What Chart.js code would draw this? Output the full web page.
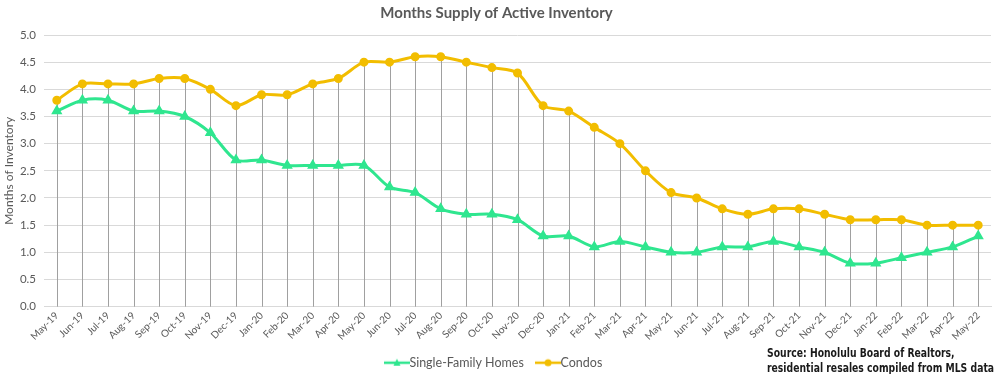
<!DOCTYPE html>
<html>
<head>
<meta charset="utf-8">
<script src="https://cdn.jsdelivr.net/npm/chart.js@4"></script>
<style>
  html, body { margin: 0; padding: 0; background: #fff; }
  #wrap { position: relative; width: 1000px; height: 374px; }
  #source {
    position: absolute; left: 767px; top: 346px;
    font: bold 11.5px "DejaVu Sans Condensed", "DejaVu Sans", sans-serif;
    color: #1a1a1a; line-height: 15px; white-space: nowrap;
    transform: scaleX(0.895); transform-origin: 0 0;
  }
</style>
</head>
<body>
<div id="wrap">
  <canvas id="myChart" width="1000" height="374"></canvas>
  <div id="source">Source: Honolulu Board of Realtors,<br>residential resales compiled from MLS data</div>
</div>
<script>
const months = [
  "May-19", "Jun-19", "Jul-19", "Aug-19", "Sep-19", "Oct-19", "Nov-19", "Dec-19",
  "Jan-20", "Feb-20", "Mar-20", "Apr-20", "May-20", "Jun-20", "Jul-20", "Aug-20",
  "Sep-20", "Oct-20", "Nov-20", "Dec-20", "Jan-21", "Feb-21", "Mar-21", "Apr-21",
  "May-21", "Jun-21", "Jul-21", "Aug-21", "Sep-21", "Oct-21", "Nov-21", "Dec-21",
  "Jan-22", "Feb-22", "Mar-22", "Apr-22", "May-22",
];
const singleFamily = [
  3.6, 3.8, 3.8, 3.6, 3.6, 3.5, 3.2, 2.7, 2.7, 2.6, 2.6, 2.6, 2.6, 2.2, 2.1, 1.8,
  1.7, 1.7, 1.6, 1.3, 1.3, 1.1, 1.2, 1.1, 1.0, 1.0, 1.1, 1.1, 1.2, 1.1, 1.0, 0.8,
  0.8, 0.9, 1.0, 1.1, 1.3,
];
const condos = [
  3.8, 4.1, 4.1, 4.1, 4.2, 4.2, 4.0, 3.7, 3.9, 3.9, 4.1, 4.2, 4.5, 4.5, 4.6, 4.6,
  4.5, 4.4, 4.3, 3.7, 3.6, 3.3, 3.0, 2.5, 2.1, 2.0, 1.8, 1.7, 1.8, 1.8, 1.7, 1.6,
  1.6, 1.6, 1.5, 1.5, 1.5,
];

const green = "#2fe68f";
const gold = "#f2bd00";
const gray = "#595959";

// legend swatch: short line with the marker in the middle
const swatch = (color, style) => {
  const c = document.createElement("canvas");
  c.width = 26;
  c.height = 10;
  const g = c.getContext("2d");
  g.strokeStyle = color;
  g.fillStyle = color;
  g.lineWidth = 2.5;
  g.beginPath();
  g.moveTo(0, 5);
  g.lineTo(26, 5);
  g.stroke();
  g.beginPath();
  if (style === "triangle") {
    g.moveTo(13, 1);
    g.lineTo(16.5, 8);
    g.lineTo(9.5, 8);
    g.closePath();
  } else {
    g.arc(13, 5, 3.5, 0, Math.PI * 2);
  }
  g.fill();
  return c;
};

// vertical drop lines from the highest point to the axis
const dropLines = {
  id: "dropLines",
  beforeDatasetsDraw(chart) {
    const { ctx, scales: { x, y } } = chart;
    ctx.save();
    ctx.strokeStyle = "#a0a0a0";
    ctx.lineWidth = 1;
    months.forEach((m, i) => {
      const top = Math.max(singleFamily[i], condos[i]);
      const px = Math.round(x.getPixelForValue(i)) + 0.5;
      ctx.beginPath();
      ctx.moveTo(px, y.getPixelForValue(top));
      ctx.lineTo(px, y.getPixelForValue(0));
      ctx.stroke();
    });
    ctx.restore();
  },
};

// nudge the legend up a little without moving the plot
const legendNudge = {
  id: "legendNudge",
  afterLayout(chart) {
    chart.legend.top -= 7;
    chart.legend.bottom -= 7;
  },
};

const ctx = document.getElementById("myChart").getContext("2d");
const myChart = new Chart(ctx, {
  type: "line",
  data: {
    labels: months,
    datasets: [
      {
        label: "Single-Family Homes",
        data: singleFamily,
        borderColor: green,
        backgroundColor: green,
        borderWidth: 3,
        pointStyle: "triangle",
        pointRadius: 3.5,
        tension: 0.3,
      },
      {
        label: "Condos",
        data: condos,
        borderColor: gold,
        backgroundColor: gold,
        borderWidth: 3,
        pointStyle: "circle",
        pointRadius: 3,
        tension: 0.3,
      },
    ],
  },
  options: {
    responsive: false,
    animation: false,
    layout: { padding: { left: 2, right: 9, top: 0, bottom: -12 } },
    scales: {
      x: {
        offset: true,
        grid: { display: false, drawTicks: false },
        border: { color: "#d9d9d9" },
        ticks: {
          color: gray,
          font: { family: "Lato", size: 10 },
          minRotation: 45,
          maxRotation: 45,
          autoSkip: false,
          padding: 3,
        },
      },
      y: {
        min: 0,
        max: 5,
        afterFit: (a) => { a.width = 42; },
        grid: { color: "#d9d9d9", drawTicks: false },
        border: { display: false },
        ticks: {
          stepSize: 0.5,
          color: gray,
          font: { family: "Lato", size: 11.5 },
          padding: 8,
          callback: (v) => v.toFixed(1),
        },
        title: {
          display: true,
          text: "Months of Inventory",
          color: gray,
          font: { family: "Lato", size: 12 },
          padding: 0,
        },
      },
    },
    plugins: {
      title: {
        display: true,
        text: "Months Supply of Active Inventory",
        color: gray,
        font: { family: "Lato", size: 15, weight: "bold" },
        padding: { top: 4, bottom: 13 },
      },
      legend: {
        position: "bottom",
        labels: {
          color: gray,
          font: { family: "Lato", size: 12.5 },
          usePointStyle: true,
          padding: 18,
          generateLabels: (chart) =>
            chart.data.datasets.map((ds, i) => ({
              text: ds.label,
              fontColor: gray,
              pointStyle: swatch(ds.borderColor, ds.pointStyle),
              datasetIndex: i,
              hidden: false,
            })),
        },
      },
      tooltip: { enabled: false },
    },
  },
  plugins: [dropLines, legendNudge],
});
</script>
</body>
</html>
